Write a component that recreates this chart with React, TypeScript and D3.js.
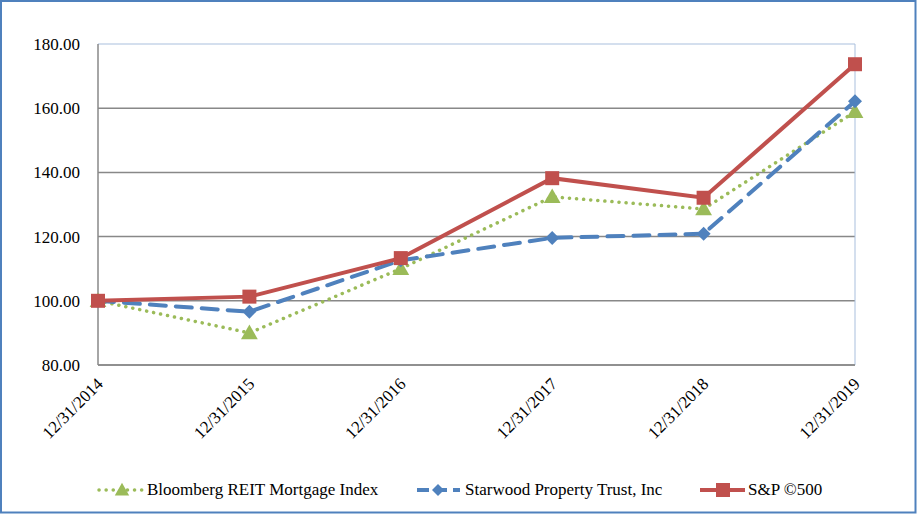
import React from "react";
import * as d3 from "d3";

const categories = ["12/31/2014", "12/31/2015", "12/31/2016", "12/31/2017", "12/31/2018", "12/31/2019"];
const bloomberg = [100.0, 90.0, 110.0, 132.4, 128.6, 158.9];
const starwood = [100.0, 96.6, 112.6, 119.6, 120.9, 162.2];
const sp500 = [100.0, 101.3, 113.3, 138.2, 132.1, 173.7];
const yTicks = [80, 100, 120, 140, 160, 180];

const seriesNames = ["Bloomberg REIT Mortgage Index", "Starwood Property Trust, Inc", "S&P \u00a9500"];

const W = 917;
const H = 514;
const plot = { left: 98, right: 855, top: 44, bottom: 365 };

export default function App() {
  const x = d3.scalePoint<string>().domain(categories).range([plot.left, plot.right]);
  const y = d3.scaleLinear().domain([80, 180]).range([plot.bottom, plot.top]);
  const line = d3
    .line<number>()
    .x((_, i) => x(categories[i]) as number)
    .y((d) => y(d));

  const font = "Liberation Serif";
  const fs = 17;
  const green = "#9BBB59";
  const blue = "#4F81BD";
  const red = "#C0504D";

  const tri = (cx: number, cy: number, s: number) =>
    `M${cx},${cy - s * 0.6}L${cx + s * 0.6},${cy + s * 0.45}L${cx - s * 0.6},${cy + s * 0.45}Z`;
  const dia = (cx: number, cy: number, s: number) =>
    `M${cx},${cy - s}L${cx + s},${cy}L${cx},${cy + s}L${cx - s},${cy}Z`;

  const legendY = 490;

  return (
    <svg width={W} height={H} style={{ position: "absolute", left: 0, top: 0, background: "#fff" }}>
      <rect x={1} y={1} width={W - 2.5} height={H - 2.5} fill="#fff" stroke="#4F81BD" strokeWidth={2} />
      {yTicks.map((t) => (
        <line key={t} x1={plot.left} x2={plot.right} y1={y(t)} y2={y(t)} stroke={t === 180 ? "#A9BFDD" : "#888"} strokeWidth={t === 180 ? 1 : 1.5} />
      ))}
      <line x1={plot.right} x2={plot.right} y1={plot.top} y2={plot.bottom} stroke="#A9BFDD" strokeWidth={1} />
      <line x1={plot.left} x2={plot.left} y1={plot.top} y2={plot.bottom} stroke="#888" strokeWidth={1.5} />
      <line x1={plot.left} x2={plot.right} y1={plot.bottom} y2={plot.bottom} stroke="#888" strokeWidth={1.5} />
      {yTicks.map((t) => (
        <text key={t} x={80} y={y(t) + 6} textAnchor="end" fontFamily={font} fontSize={fs} fill="#000">
          {t.toFixed(2)}
        </text>
      ))}
      {categories.map((c) => {
        const px = (x(c) as number) + 6;
        const py = plot.bottom + 20;
        return (
          <text key={c} x={px} y={py} transform={`rotate(-45 ${px} ${py})`} textAnchor="end" fontFamily={font} fontSize={fs} fill="#000">
            {c}
          </text>
        );
      })}
      <path d={line(bloomberg) || ""} fill="none" stroke={green} strokeWidth={3.5} strokeDasharray="0.1 7" strokeLinecap="round" />
      <path d={line(starwood) || ""} fill="none" stroke={blue} strokeWidth={4} strokeDasharray="16 10" strokeLinecap="round" />
      <path d={line(sp500) || ""} fill="none" stroke={red} strokeWidth={4} />
      {bloomberg.map((v, i) => (
        <path key={"g" + i} d={tri(x(categories[i]) as number, y(v), 14)} fill={green} />
      ))}
      {starwood.map((v, i) => (
        <path key={"b" + i} d={dia(x(categories[i]) as number, y(v), 7)} fill={blue} />
      ))}
      {sp500.map((v, i) => (
        <rect key={"r" + i} x={(x(categories[i]) as number) - 7} y={y(v) - 7} width={14} height={14} fill={red} />
      ))}
      <line x1={99} x2={143} y1={legendY} y2={legendY} stroke={green} strokeWidth={3.5} strokeDasharray="0.1 7" strokeLinecap="round" />
      <path d={tri(122, legendY, 12)} fill={green} />
      <text x={147} y={legendY + 5} fontFamily={font} fontSize={fs}>{seriesNames[0]}</text>
      <line x1={417} x2={460} y1={legendY} y2={legendY} stroke={blue} strokeWidth={4} strokeDasharray="12 6" />
      <path d={dia(438, legendY, 6)} fill={blue} />
      <text x={465} y={legendY + 5} fontFamily={font} fontSize={fs}>{seriesNames[1]}</text>
      <line x1={700} x2={745} y1={legendY} y2={legendY} stroke={red} strokeWidth={4} />
      <rect x={716} y={legendY - 7} width={14} height={14} fill={red} />
      <text x={748} y={legendY + 5} fontFamily={font} fontSize={fs}>{seriesNames[2]}</text>
    </svg>
  );
}
